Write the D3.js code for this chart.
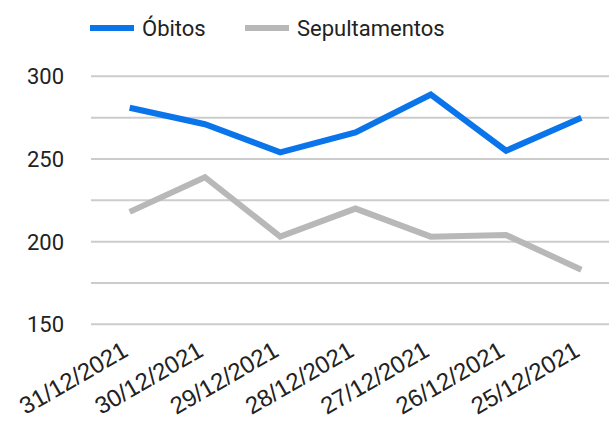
<!DOCTYPE html>
<html>
<head>
<meta charset="utf-8">
<script src="https://cdn.jsdelivr.net/npm/d3@7"></script>
<style>
  body { margin: 0; background: #fff; }
</style>
</head>
<body>
<div id="chart"></div>
<script>
// data
const dates = ["31/12/2021", "30/12/2021", "29/12/2021", "28/12/2021", "27/12/2021", "26/12/2021", "25/12/2021"];
const obitos = [281, 271, 254, 266, 289, 255, 275];
const sepultamentos = [218, 239, 203, 220, 203, 204, 183];
const yTicks = [150, 175, 200, 225, 250, 275, 300];
const yLabels = [150, 200, 250, 300];

const W = 609, H = 423;
const svg = d3.select("#chart").append("svg")
  .attr("width", W).attr("height", H);

// scales
const x = d3.scaleBand().domain(dates).range([92, 619]).padding(0);
const y = d3.scaleLinear().domain([150, 300]).range([324.3, 76.3]);
const cx = d => x(d) + x.bandwidth() / 2;

// gridlines
svg.append("g").selectAll("line")
  .data(yTicks).enter().append("line")
  .attr("x1", 91).attr("x2", W)
  .attr("y1", d => y(d)).attr("y2", d => y(d))
  .attr("stroke", "#cccccc").attr("stroke-width", 2);

// y labels
svg.append("g").selectAll("text")
  .data(yLabels).enter().append("text")
  .attr("x", 64).attr("y", d => y(d) + 8)
  .attr("text-anchor", "end")
  .style("font-family", "Roboto").style("font-size", "22px")
  .attr("fill", "#222")
  .text(d => d);

// x labels, rotated
svg.append("g").selectAll("text")
  .data(dates).enter().append("text")
  .attr("transform", d => "translate(" + cx(d) + ",355) rotate(-30)")
  .attr("text-anchor", "end")
  .style("font-family", "Liberation Sans").style("font-size", "24px")
  .attr("fill", "#222")
  .text(d => d);

// lines
const series = [
  { name: "Óbitos", values: obitos, color: "#0a74ea" },
  { name: "Sepultamentos", values: sepultamentos, color: "#b8b8b8" }
];
const line = d3.line()
  .x((v, i) => cx(dates[i]))
  .y(v => y(v));

svg.append("g").selectAll("path")
  .data(series.slice().reverse()).enter().append("path")
  .attr("d", d => line(d.values))
  .attr("fill", "none")
  .attr("stroke", d => d.color)
  .attr("stroke-width", 6)
  .attr("stroke-linejoin", "miter");

// legend
const legendX = [90, 245];
const leg = svg.append("g").selectAll("g")
  .data(series).enter().append("g")
  .attr("transform", (d, i) => "translate(" + legendX[i] + ",28)");
leg.append("line")
  .attr("x1", 0).attr("x2", 44)
  .attr("stroke", d => d.color).attr("stroke-width", 6);
leg.append("text")
  .attr("x", 52).attr("y", 8)
  .style("font-family", "Roboto").style("font-size", "22px")
  .attr("fill", "#222")
  .text(d => d.name);
</script>
</body>
</html>
